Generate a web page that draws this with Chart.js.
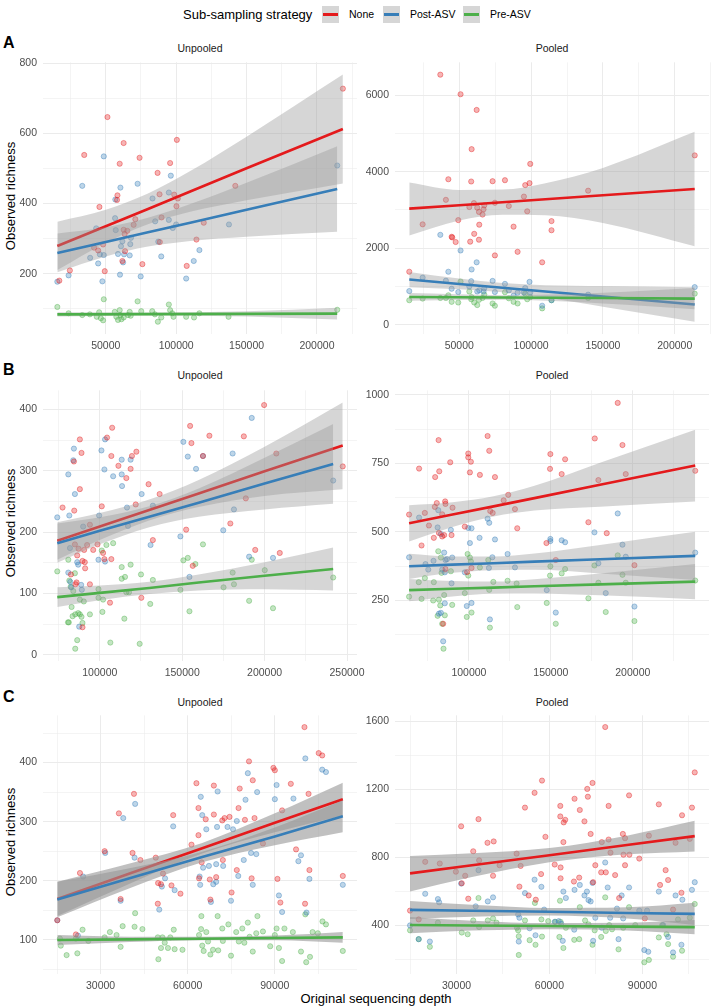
<!DOCTYPE html>
<html>
<head>
<meta charset="utf-8">
<script src="https://cdn.jsdelivr.net/npm/chart.js@4.4.1/dist/chart.umd.min.js"></script>
<style>
  body { margin: 0; width: 713px; height: 1008px; position: relative; overflow: hidden; background: #fff;
         font-family: "Liberation Sans", Arial, sans-serif; }
  canvas { position: absolute; }
  .txt { position: absolute; white-space: nowrap; }
  .key { position: absolute; width: 17px; height: 17px; background: #d6d6d6; }
  .key span { position: absolute; left: 1px; right: 1px; top: 7px; height: 3px; }
  .strip { font-size: 10.5px; color: #1a1a1a; transform: translate(-50%, -50%); }
  .letter { font-size: 16px; font-weight: bold; color: #000; transform: translateY(-50%); }
  .ytitle { font-size: 13px; color: #000; transform: translate(-50%, -50%) rotate(-90deg); }
</style>
</head>
<body>

<div class="txt" style="left:183px;top:6px;line-height:17px;font-size:13px;">Sub-sampling strategy</div>
<div class="key" style="left:322px;top:6px;"><span style="background:#E41A1C"></span></div>
<div class="txt" style="left:349px;top:6px;line-height:17px;font-size:10.5px;">None</div>
<div class="key" style="left:383px;top:6px;"><span style="background:#377EB8"></span></div>
<div class="txt" style="left:410px;top:6px;line-height:17px;font-size:10.5px;">Post-ASV</div>
<div class="key" style="left:463px;top:6px;"><span style="background:#4DAF4A"></span></div>
<div class="txt" style="left:490px;top:6px;line-height:17px;font-size:10.5px;">Pre-ASV</div>

<div class="txt letter" style="left:3px;top:43px;">A</div>
<div class="txt letter" style="left:3px;top:370px;">B</div>
<div class="txt letter" style="left:3px;top:697px;">C</div>

<div class="txt strip" style="left:200px;top:47.5px;">Unpooled</div>
<div class="txt strip" style="left:552px;top:47.5px;">Pooled</div>
<div class="txt strip" style="left:200px;top:375px;">Unpooled</div>
<div class="txt strip" style="left:552px;top:375px;">Pooled</div>
<div class="txt strip" style="left:200px;top:702px;">Unpooled</div>
<div class="txt strip" style="left:552px;top:702px;">Pooled</div>

<div class="txt ytitle" style="left:10px;top:196px;">Observed richness</div>
<div class="txt ytitle" style="left:10px;top:523px;">Observed richness</div>
<div class="txt ytitle" style="left:10px;top:842px;">Observed richness</div>
<div class="txt" style="left:376px;top:998px;font-size:13px;transform:translate(-50%,-50%);">Original sequencing depth</div>

<script>
// ---- data: [depth, richness] per sample ----
const SERIES = ['None', 'Post-ASV', 'Pre-ASV'];

// A, unpooled
const A_UN_NONE = [[17000,180],[24500,209],[34700,538],[45500,390],[51200,646],[49300,207],[44600,266],[41700,274],[48100,283],[58300,423],[58000,410],[59900,513],[62700,572],[62700,325],[63400,313],[65300,322],[63700,264],[61800,236],[69800,339],[71000,355],[74000,530],[76000,227],[86800,487],[88200,426],[89600,360],[88400,290],[95700,515],[98600,425],[100500,581],[100200,392],[101200,414],[107500,222],[114400,297],[119600,345],[142000,450],[218400,727]];
const A_UN_POST = [[15600,177],[23600,195],[33300,450],[38900,245],[43200,329],[44600,229],[45800,255],[48600,534],[47600,178],[48600,253],[56600,358],[57100,324],[56800,411],[58700,256],[60400,445],[60100,197],[60800,278],[61800,292],[62300,232],[63000,255],[67000,252],[67400,284],[67900,302],[72600,456],[74800,192],[83200,414],[85100,349],[87300,291],[89400,249],[94800,431],[94800,353],[96200,479],[97600,330],[100000,340],[107100,186],[112500,236],[116500,267],[137500,340],[214400,508]];
const A_UN_PRE = [[15600,105],[23600,87],[33300,82],[38700,84],[43600,77],[45300,90],[48600,127],[48100,67],[46500,73],[56400,91],[57500,77],[58700,68],[59900,96],[60400,82],[61100,70],[62700,75],[65800,82],[67000,91],[67700,80],[72600,121],[75200,93],[83000,93],[84900,84],[87000,63],[89400,75],[94800,112],[95700,96],[97200,87],[98100,77],[107100,77],[112700,75],[116500,87],[137200,77],[214400,97]];

// A, pooled
const A_PO_NONE = [[15200,1385],[24500,2624],[36800,6538],[42400,3803],[40700,3265],[44700,2299],[45100,2282],[47500,2162],[49300,2735],[50900,6026],[57000,3077],[57600,2171],[58300,3744],[58600,4590],[60400,2376],[60200,3180],[62100,5615],[62500,3060],[63700,2222],[63900,2615],[63700,2949],[66200,2880],[66900,3017],[67400,3120],[73200,3752],[74800,1812],[74800,3188],[81800,3778],[84500,3103],[87800,2564],[90600,1906],[95000,3350],[95900,3650],[97300,2966],[98900,3701],[99400,4205],[107700,1632],[114200,2709],[114200,2470],[139700,3504],[213900,4427]];
const A_PO_POST = [[15200,880],[24500,1231],[36800,2350],[42400,1385],[40700,1150],[44700,940],[49300,855],[50900,1940],[57000,1000],[58300,1137],[58600,1444],[62100,1632],[62500,868],[63900,900],[66900,868],[67400,950],[73200,1145],[74800,855],[81800,1068],[84500,897],[87800,760],[90600,838],[95000,840],[95900,960],[98900,1120],[99400,838],[107700,496],[114200,640],[139700,786],[213900,983]];
const A_PO_PRE = [[15200,640],[24500,683],[36800,700],[40700,700],[42400,769],[44700,598],[49300,580],[50900,1128],[57000,868],[58300,666],[58600,720],[60400,580],[62500,513],[63700,650],[66200,700],[67400,790],[73200,555],[74800,496],[81800,850],[84500,690],[87800,598],[90600,555],[95900,812],[97300,666],[99400,720],[107700,427],[114200,640],[139700,700],[213900,812]];

// B, unpooled
const B_UN_NONE = [[77400,240],[87900,351],[88900,329],[87900,270],[84300,315],[84500,235],[94000,212],[92300,179],[90500,171],[90900,151],[86300,162],[84900,180],[87100,173],[89500,153],[91100,141],[85900,118],[85300,115],[94000,115],[82500,131],[89500,45],[101200,242],[98600,180],[96000,171],[102000,166],[102800,156],[104400,354],[107500,370],[107000,324],[107000,156],[106200,85],[111300,308],[116100,288],[118700,303],[119500,324],[122200,331],[121800,245],[125200,93],[129600,278],[132200,187],[136300,262],[152400,204],[154800,373],[155600,345],[156400,145],[162600,324],[166500,357],[179200,214],[187400,356],[188600,255],[194300,171],[199700,407],[207100,328],[209200,166],[247400,307]];
const B_UN_POST = [[74200,224],[80900,294],[81500,227],[84300,336],[83900,317],[84900,262],[81900,174],[80900,134],[82100,119],[82700,110],[86300,151],[86900,147],[87500,46],[88700,114],[89100,106],[89900,209],[99600,227],[99200,155],[101000,333],[102800,302],[103200,351],[103200,152],[108100,291],[113300,318],[113300,294],[113500,275],[118700,318],[116500,240],[117100,210],[125400,262],[132200,243],[130800,179],[148900,193],[150700,347],[153400,323],[154400,127],[158400,303],[162600,324],[174900,203],[180600,328],[181400,237],[190600,160],[192200,386],[205100,158],[241600,284]];
const B_UN_PRE = [[74200,136],[80900,155],[81500,121],[82300,111],[80700,53],[81200,53],[82900,78],[83500,63],[84900,133],[83900,104],[85100,10],[86300,24],[85100,66],[86900,68],[87900,66],[88900,62],[89500,52],[87900,90],[90300,87],[94000,66],[99200,93],[99200,107],[101600,70],[102000,90],[101200,170],[104000,179],[108100,182],[106400,20],[114900,59],[113300,143],[113300,124],[115300,127],[116100,102],[117700,102],[118700,147],[125000,131],[124200,18],[130600,83],[132200,122],[148900,106],[150700,154],[153400,158],[154400,71],[158000,148],[162600,180],[175100,110],[180600,134],[181400,115],[190600,88],[192200,155],[200100,138],[205100,76],[241600,126]];

// B, pooled
const B_PO_NONE = [[63500,563],[69600,731],[71100,450],[73100,569],[75600,523],[78600,478],[79400,700],[79200,591],[80400,605],[81700,496],[81500,835],[81900,721],[83700,564],[83700,483],[84900,488],[85500,611],[85700,602],[88600,754],[89400,488],[90000,588],[84300,164],[85700,364],[97500,519],[98900,353],[99600,786],[99600,772],[100600,717],[101200,756],[101600,368],[106700,708],[111400,850],[112400,796],[113000,576],[114500,569],[115900,700],[121200,615],[124000,635],[128100,583],[129500,513],[147300,459],[149500,730],[149700,784],[153000,397],[156600,711],[158700,765],[172900,535],[176800,841],[179000,689],[184100,495],[190800,971],[193700,817],[195700,711],[201000,378],[238100,723]];
const B_PO_POST = [[63500,407],[69600,552],[73500,382],[75200,362],[78400,394],[80900,516],[81300,579],[82900,492],[83700,362],[84900,424],[85300,352],[85700,397],[86600,400],[81700,201],[82900,204],[84300,100],[85300,239],[89000,507],[89800,406],[89400,312],[97500,352],[98700,229],[99600,514],[100600,459],[101600,513],[101600,240],[106500,478],[111400,548],[112400,533],[112800,180],[114300,407],[115900,472],[112200,368],[123600,419],[128100,370],[147500,287],[149700,474],[149700,466],[153000,205],[156600,469],[158700,462],[176600,498],[179000,385],[183500,276],[190800,567],[193700,453],[195700,409],[201000,227],[238100,424]];
const B_PO_PRE = [[63500,263],[69400,316],[71100,255],[73100,331],[78200,249],[78600,316],[80900,193],[81300,429],[81700,252],[82500,231],[82900,406],[83300,350],[83700,164],[84500,73],[84900,269],[85300,195],[89000,356],[89800,233],[97500,276],[98700,189],[99200,419],[99600,340],[100600,406],[101200,392],[101600,205],[106700,370],[111800,397],[112400,288],[112800,150],[114900,317],[123600,321],[129100,311],[129500,225],[147500,240],[149700,374],[149500,340],[153000,164],[156600,348],[158700,364],[172900,257],[176600,377],[179000,314],[183500,207],[190800,414],[193700,343],[195700,314],[201000,174],[238100,322]];

// C, unpooled
const C_UN_NONE = [[15100,133],[21500,109],[22900,213],[31400,250],[36300,314],[36900,169],[41000,247],[41500,347],[43700,235],[49000,239],[49700,161],[49800,196],[50800,194],[51500,212],[54400,192],[55000,311],[57500,178],[61300,261],[63000,365],[63700,323],[63700,277],[63900,204],[64800,231],[66200,304],[67600,202],[67800,168],[69000,361],[69000,312],[69800,206],[71900,302],[72100,235],[72700,306],[74400,308],[75100,180],[76900,218],[77500,323],[77900,356],[79700,303],[81100,402],[82000,204],[82400,370],[83000,306],[85900,263],[89500,391],[90000,387],[90900,203],[91900,163],[92500,319],[95500,364],[97300,253],[100200,460],[100400,161],[101600,347],[101900,218],[105100,416],[106300,412],[113400,208]];
const C_UN_POST = [[15100,133],[22200,107],[24000,207],[31600,247],[36900,166],[37800,306],[41700,239],[41900,330],[50200,151],[51100,190],[52200,204],[55000,292],[55500,184],[64100,207],[64300,193],[64500,342],[65000,311],[66400,287],[65300,222],[67300,225],[68000,164],[68800,194],[69800,198],[69800,228],[70100,291],[70300,351],[72200,225],[73700,291],[74900,166],[75600,287],[76900,301],[77400,208],[79300,235],[79900,337],[80700,382],[81800,247],[82400,193],[83600,245],[83900,350],[90000,338],[90600,362],[91400,175],[92500,147],[96400,339],[98100,233],[99000,243],[100500,407],[100900,146],[101900,203],[106300,388],[107600,384],[113400,193]];
const C_UN_PRE = [[16000,102],[16300,90],[18300,74],[21500,102],[22000,77],[23800,117],[25800,98],[31400,104],[33200,113],[35500,108],[36900,88],[37600,123],[41700,122],[41900,145],[44400,118],[49900,67],[49700,104],[50800,86],[51300,104],[52100,95],[53200,86],[54000,104],[55200,117],[55500,84],[58200,83],[63900,108],[64600,118],[64700,140],[65000,90],[65500,81],[66400,113],[67000,97],[67800,75],[68700,83],[70300,140],[70500,82],[71900,119],[72100,98],[74000,126],[74900,73],[76700,113],[77600,97],[78800,119],[79500,95],[80700,129],[81300,105],[82400,80],[83600,111],[84000,140],[85900,114],[88400,89],[90000,108],[90600,119],[91400,86],[92500,64],[93300,119],[96200,113],[99000,80],[100500,143],[100800,62],[102100,71],[103000,113],[104800,111],[106400,131],[107600,126],[113400,81]];

// C, pooled
const C_PO_NONE = [[15000,485],[17800,433],[19900,772],[24600,762],[29800,714],[31500,981],[31700,646],[32800,690],[33800,555],[35400,834],[37100,1023],[37300,781],[40000,884],[41800,690],[42000,892],[43900,752],[49400,820],[50300,626],[50700,748],[52100,1091],[53300,574],[55200,1178],[55600,549],[57300,700],[57600,1250],[58700,919],[61700,756],[63500,1101],[63500,1039],[63600,739],[63600,675],[64600,1004],[65100,1019],[64500,888],[67900,656],[68100,1143],[69800,1077],[69600,679],[71300,1010],[72200,1201],[72400,1155],[73300,936],[73900,1236],[74100,652],[74800,752],[76700,710],[76900,888],[78000,1565],[78200,710],[79100,1101],[79100,903],[79700,826],[81200,694],[82500,559],[83700,936],[83900,814],[84400,752],[84400,911],[85700,1163],[85800,814],[89000,791],[90800,439],[92100,926],[95300,1110],[95700,636],[97500,723],[98300,665],[99900,491],[100700,884],[102600,590],[102800,1046],[106000,1091],[106900,1298],[105300,907]];
const C_PO_POST = [[15000,398],[17800,317],[19900,584],[21400,303],[24000,553],[24400,534],[31500,644],[36200,510],[37100,723],[40100,539],[41800,563],[49900,462],[50100,303],[50300,443],[52100,588],[53600,381],[55500,340],[55200,667],[57400,625],[58300,491],[61700,419],[63000,423],[63800,408],[64300,307],[64500,597],[65300,559],[68000,373],[68100,607],[69800,636],[71300,574],[72100,597],[72600,547],[73300,539],[73900,648],[74100,307],[74800,443],[76900,384],[78000,768],[78800,621],[79600,443],[81800,497],[82300,317],[83300,574],[83800,439],[85700,621],[89000,485],[90600,253],[91500,485],[91900,243],[95300,597],[96700,400],[98300,330],[99900,239],[100700,574],[102600,284],[102900,549],[106000,607],[106900,652]];
const C_PO_PRE = [[15000,369],[17800,317],[21400,272],[24000,414],[31700,356],[33600,346],[35400,427],[37100,559],[37300,388],[40100,427],[41800,439],[42900,414],[49500,384],[49900,369],[50100,334],[50100,224],[52100,427],[53600,311],[55300,530],[55500,284],[57400,433],[57600,332],[59600,423],[61900,419],[63200,330],[63400,543],[63600,419],[64500,265],[65300,384],[68000,313],[69600,317],[69800,505],[71500,427],[72600,404],[73900,284],[74600,369],[76700,330],[78000,563],[78200,365],[79300,400],[80200,375],[82300,257],[83800,384],[85700,505],[87700,400],[90600,181],[92100,195],[95300,327],[96400,400],[97800,346],[98300,288],[99900,214],[101500,433],[102800,249],[105300,443],[106900,524]];

// ---- linear fits with 95% band: [depth, fit, lower, upper] ----
const A_UN_NONE_FIT = [[15600,278.5,210,348],[50000,335,288,382],[80000,384,341,428],[110000,434,376,492],[150000,500,409,590],[218400,612,457,767]];
const A_UN_POST_FIT = [[15600,259,204,314],[50000,290,249,332],[80000,318,277,359],[110000,345,293,398],[150000,382,305,459],[214400,441,319,563]];
const A_UN_PRE_FIT = [[15600,84,78,90],[80000,84.7,81,89],[150000,85.4,78,93],[214400,86,69,103]];
const A_PO_NONE_FIT = [[15200,3034,2333,3718],[50000,3124,2724,3524],[80000,3202,2872,3532],[110000,3279,2860,3700],[150000,3383,2660,4100],[213900,3547,2051,5043]];
const A_PO_POST_FIT = [[15200,1180,980,1380],[50000,1066,926,1206],[80000,968,848,1088],[110000,870,710,1030],[150000,739,469,1009],[213900,530,80,980]];
const A_PO_PRE_FIT = [[15200,726,626,826],[80000,712,652,772],[150000,697,557,837],[213900,683,403,963]];
const B_UN_NONE_FIT = [[74200,186,155,216],[100000,209,187,231],[130000,236,219,253],[160000,263,241,285],[200000,299,259,339],[247400,341,270,411]];
const B_UN_POST_FIT = [[74200,182,150,214],[100000,202,180,224],[130000,225,208,242],[160000,248,225,271],[200000,279,237,321],[241600,311,246,376]];
const B_UN_PRE_FIT = [[74200,94,78,110],[100000,101,89,113],[130000,109,99,119],[160000,118,105,131],[200000,129,107,151],[241600,140,105,175]];
const B_PO_NONE_FIT = [[63500,531,465,597],[90000,563,518,608],[115000,593,556,630],[140000,623,578,668],[180000,672,592,752],[238100,742,611,873]];
const B_PO_POST_FIT = [[63500,374,328,420],[90000,380,350,410],[115000,385,360,410],[140000,391,361,421],[180000,400,348,452],[238100,412,324,500]];
const B_PO_PRE_FIT = [[63500,287,246,328],[90000,292,264,320],[115000,296,274,318],[140000,301,275,327],[180000,308,268,348],[238100,318,254,382]];
const C_UN_NONE_FIT = [[15100,169,140,198],[40000,212,195,229],[65000,255,246,264],[90000,298,282,314],[113400,338,310,366]];
const C_UN_POST_FIT = [[15100,168,138,198],[40000,204,187,221],[65000,240,231,249],[90000,275,260,290],[113400,309,282,336]];
const C_UN_PRE_FIT = [[15100,99.5,91,108],[40000,100.6,96,105],[65000,101.8,99,105],[90000,103,99,107],[113400,104,95,113]];
const C_PO_NONE_FIT = [[15000,704,597,806],[35000,752,682,822],[60000,811,769,853],[85000,871,816,926],[106900,923,833,1013]];
const C_PO_POST_FIT = [[15000,489,436,542],[35000,484,449,519],[60000,478,456,500],[85000,471,438,504],[106900,466,401,531]];
const C_PO_PRE_FIT = [[15000,400,352,448],[35000,397,368,426],[60000,394,376,412],[85000,391,368,414],[106900,388,346,430]];

// ---- tick labels (major) and minor grid positions ----
const A_X_TICKS = [50000, 100000, 150000, 200000];
const A_X_MINOR = [25000, 75000, 125000, 175000, 225000];
const A_UN_Y_TICKS = [200, 400, 600, 800];
const A_UN_Y_MINOR = [100, 300, 500, 700];
const A_PO_Y_TICKS = [0, 2000, 4000, 6000];
const A_PO_Y_MINOR = [1000, 3000, 5000];
const B_UN_X_TICKS = [100000, 150000, 200000, 250000];
const B_PO_X_TICKS = [100000, 150000, 200000];
const B_X_MINOR = [75000, 125000, 175000, 225000];
const B_UN_Y_TICKS = [0, 100, 200, 300, 400];
const B_UN_Y_MINOR = [50, 150, 250, 350];
const B_PO_Y_TICKS = [250, 500, 750, 1000];
const B_PO_Y_MINOR = [125, 375, 625, 875];
const C_X_TICKS = [30000, 60000, 90000];
const C_X_MINOR = [15000, 45000, 75000, 105000];
const C_UN_Y_TICKS = [100, 200, 300, 400];
const C_UN_Y_MINOR = [50, 150, 250, 350, 450];
const C_PO_Y_TICKS = [400, 800, 1200, 1600];
const C_PO_Y_MINOR = [200, 600, 1000, 1400];

// ---- layout ----
const FONT = '"Liberation Sans", Arial, sans-serif';
const COLOURS = ['228,26,28', '55,126,184', '77,175,74'];
const COL_X = [43, 395];
const ROW_Y = [58, 386, 711];
const ROW_H = [276, 275, 263];
const BAND_ALPHA = [0.4, 0.4, 0.62];   // row C ribbons are noticeably darker
const PANEL_W = 314;
const YW = 40, PADT = 8, PADR = 26, XH = 20;

const panels = [
  { row: 0, col: 0, xLim: [5420, 228440], yLim: [28, 802], xt: A_X_TICKS, xm: A_X_MINOR, yt: A_UN_Y_TICKS, ym: A_UN_Y_MINOR,
    pts: [A_UN_NONE, A_UN_POST, A_UN_PRE], fits: [A_UN_NONE_FIT, A_UN_POST_FIT, A_UN_PRE_FIT] },
  { row: 0, col: 1, xLim: [5265, 223835], yLim: [-243, 6861], xt: A_X_TICKS, xm: A_X_MINOR, yt: A_PO_Y_TICKS, ym: A_PO_Y_MINOR,
    pts: [A_PO_NONE, A_PO_POST, A_PO_PRE], fits: [A_PO_NONE_FIT, A_PO_POST_FIT, A_PO_PRE_FIT] },
  { row: 1, col: 0, xLim: [65540, 256060], yLim: [-10, 431], xt: B_UN_X_TICKS, xm: B_X_MINOR, yt: B_UN_Y_TICKS, ym: B_UN_Y_MINOR,
    pts: [B_UN_NONE, B_UN_POST, B_UN_PRE], fits: [B_UN_NONE_FIT, B_UN_POST_FIT, B_UN_PRE_FIT] },
  { row: 1, col: 1, xLim: [54900, 246500], yLim: [28, 1017], xt: B_PO_X_TICKS, xm: B_X_MINOR, yt: B_PO_Y_TICKS, ym: B_PO_Y_MINOR,
    pts: [B_PO_NONE, B_PO_POST, B_PO_PRE], fits: [B_PO_NONE_FIT, B_PO_POST_FIT, B_PO_PRE_FIT] },
  { row: 2, col: 0, xLim: [10176, 118284], yLim: [42, 480], xt: C_X_TICKS, xm: C_X_MINOR, yt: C_UN_Y_TICKS, ym: C_UN_Y_MINOR,
    pts: [C_UN_NONE, C_UN_POST, C_UN_PRE], fits: [C_UN_NONE_FIT, C_UN_POST_FIT, C_UN_PRE_FIT] },
  { row: 2, col: 1, xLim: [10150, 111500], yLim: [112, 1634], xt: C_X_TICKS, xm: C_X_MINOR, yt: C_PO_Y_TICKS, ym: C_PO_Y_MINOR,
    pts: [C_PO_NONE, C_PO_POST, C_PO_PRE], fits: [C_PO_NONE_FIT, C_PO_POST_FIT, C_PO_PRE_FIT] }
];

function axis(lim, majors, minors, isX) {
  return {
    type: 'linear',
    min: lim[0],
    max: lim[1],
    afterFit: s => { if (isX) s.height = XH; else s.width = YW; },
    afterBuildTicks: s => {
      s.ticks = majors.concat(minors).sort((a, b) => a - b).map(v => ({ value: v }));
    },
    ticks: {
      autoSkip: false,
      maxRotation: 0,
      padding: 6,
      color: '#4d4d4d',
      font: { family: FONT, size: 10.5 },
      callback: v => majors.includes(v) ? String(v) : ''
    },
    grid: {
      drawTicks: false,
      color: '#ebebeb',
      lineWidth: c => (c.tick && majors.includes(c.tick.value)) ? 1 : 0.55
    },
    border: { display: false }
  };
}

panels.forEach(p => {
  const cv = document.createElement('canvas');
  const w = YW + PANEL_W + PADR, h = PADT + ROW_H[p.row] + XH;
  cv.width = w; cv.height = h;
  cv.style.left = (COL_X[p.col] - YW) + 'px';
  cv.style.top = (ROW_Y[p.row] - PADT) + 'px';
  cv.style.width = w + 'px';
  cv.style.height = h + 'px';
  document.body.appendChild(cv);

  const bandFill = `rgba(153,153,153,${BAND_ALPHA[p.row]})`;
  const datasets = [];
  p.pts.forEach((pts, i) => {
    datasets.push({
      type: 'scatter',
      label: SERIES[i],
      data: pts.map(([x, y]) => ({ x, y })),
      backgroundColor: `rgba(${COLOURS[i]},0.33)`,
      borderColor: `rgba(${COLOURS[i]},0.4)`,
      borderWidth: 1,
      pointRadius: 2.6,
      order: 10
    });
  });
  p.fits.forEach((f, i) => {
    datasets.push({
      type: 'line',
      data: f.map(r => ({ x: r[0], y: r[3] })),
      borderWidth: 0, borderColor: 'transparent', pointRadius: 0,
      fill: '+1', backgroundColor: bandFill,
      cubicInterpolationMode: 'monotone',
      order: 6 - 2 * i
    });
    datasets.push({
      type: 'line',
      data: f.map(r => ({ x: r[0], y: r[2] })),
      borderWidth: 0, borderColor: 'transparent', pointRadius: 0,
      fill: false, cubicInterpolationMode: 'monotone',
      order: 6 - 2 * i
    });
    datasets.push({
      type: 'line',
      data: f.map(r => ({ x: r[0], y: r[1] })),
      borderColor: `rgb(${COLOURS[i]})`, borderWidth: 2.6, pointRadius: 0,
      fill: false,
      order: 5 - 2 * i
    });
  });

  new Chart(cv.getContext('2d'), {
    type: 'scatter',
    data: { datasets },
    options: {
      responsive: false,
      animation: false,
      devicePixelRatio: 1,
      layout: { padding: { top: PADT, right: PADR, left: 0, bottom: 0 } },
      plugins: { legend: { display: false }, tooltip: { enabled: false } },
      scales: {
        x: axis(p.xLim, p.xt, p.xm, true),
        y: axis(p.yLim, p.yt, p.ym, false)
      }
    }
  });
});
</script>
</body>
</html>
